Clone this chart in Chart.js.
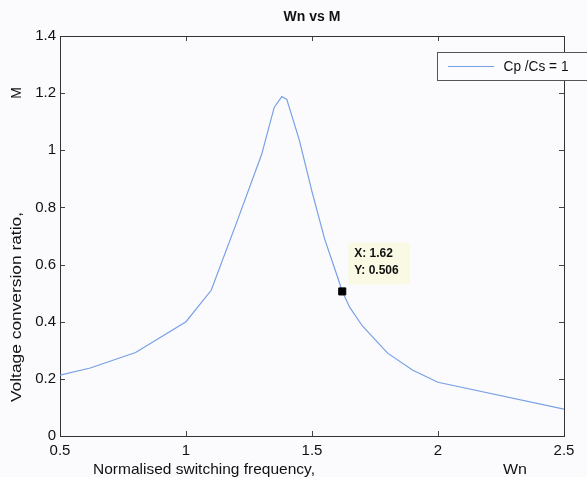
<!DOCTYPE html>
<html>
<head>
<meta charset="utf-8">
<script src="https://cdn.jsdelivr.net/npm/chart.js@4.4.1/dist/chart.umd.min.js"></script>
<style>
    html, body { margin: 0; padding: 0; background: #fbfbfe; }
    #wrap { width: 587px; height: 477px; }
</style>
</head>
<body>
<div id="wrap"><canvas id="chart" width="587" height="477"></canvas></div>
<script>
// Data
const wn = [0.5, 0.62, 0.8, 1.0, 1.1, 1.2, 1.3, 1.35, 1.38, 1.4, 1.45, 1.5, 1.55, 1.6, 1.62, 1.65, 1.7, 1.8, 1.9, 2.0, 2.5];
const m = [0.213, 0.238, 0.292, 0.400, 0.510, 0.745, 0.985, 1.150, 1.188, 1.178, 1.035, 0.855, 0.690, 0.560, 0.506, 0.450, 0.385, 0.290, 0.230, 0.188, 0.094];
const seriesLabel = 'Cp /Cs = 1';
const tipX = [1.62];
const tipY = [0.506];
const xTicks = [0.5, 1, 1.5, 2, 2.5];
const yTicks = [0, 0.2, 0.4, 0.6, 0.8, 1, 1.2, 1.4];

const FONT = "'Liberation Sans', Arial, sans-serif";
const lineColor = '#78a0e4';

// stretched text helper (the scanned labels are wider than the font)
function wideText(ctx, text, x, y, width) {
    const w = ctx.measureText(text).width;
    ctx.save();
    ctx.translate(x, y);
    ctx.scale(width / w, 1);
    ctx.fillText(text, 0, 0);
    ctx.restore();
}

// Draws the MATLAB style pieces: box, inner ticks, labels, legend, data tip
const matlabPlugin = {
    id: 'matlab',
    beforeDatasetsDraw(chart) {
        const { ctx, chartArea: a, scales } = chart;
        const x = scales.x, y = scales.y;
        ctx.save();

        // inner tick marks on all sides
        ctx.strokeStyle = '#444';
        ctx.lineWidth = 1;
        ctx.beginPath();
        xTicks.forEach(v => {
            const px = Math.round(x.getPixelForValue(v)) + 0.5;
            ctx.moveTo(px, a.bottom); ctx.lineTo(px, a.bottom - 5);
            ctx.moveTo(px, a.top); ctx.lineTo(px, a.top + 5);
        });
        yTicks.forEach(v => {
            const py = Math.round(y.getPixelForValue(v)) + 0.5;
            ctx.moveTo(a.left, py); ctx.lineTo(a.left + 5, py);
            ctx.moveTo(a.right, py); ctx.lineTo(a.right - 5, py);
        });
        ctx.stroke();

        // box
        ctx.strokeStyle = '#333';
        ctx.strokeRect(Math.round(a.left) + 0.5, Math.round(a.top) + 0.5,
            Math.round(a.right - a.left), Math.round(a.bottom - a.top));

        // title
        ctx.fillStyle = '#111';
        ctx.font = 'bold 14px ' + FONT;
        ctx.textAlign = 'center';
        ctx.textBaseline = 'middle';
        ctx.fillText('Wn vs M', (a.left + a.right) / 2, 17);

        // axis titles
        ctx.font = '15px ' + FONT;
        wideText(ctx, 'Normalised switching frequency,', 204, 470, 222);
        wideText(ctx, 'Wn', 515, 470, 24);
        ctx.save();
        ctx.translate(17, 307);
        ctx.rotate(-Math.PI / 2);
        ctx.font = '14px ' + FONT;
        wideText(ctx, 'Voltage conversion ratio,', 0, 0, 190);
        ctx.restore();
        ctx.save();
        ctx.translate(17, 93);
        ctx.rotate(-Math.PI / 2);
        ctx.font = '14px ' + FONT;
        ctx.fillText('M', 0, 0);
        ctx.restore();

        ctx.restore();
    },
    afterDatasetsDraw(chart) {
        const { ctx, scales } = chart;
        const x = scales.x, y = scales.y;
        ctx.save();
        ctx.textBaseline = 'middle';

        // legend
        ctx.fillStyle = '#fcfcfe';
        ctx.fillRect(437.5, 52.5, 160, 28);
        ctx.strokeStyle = '#555';
        ctx.lineWidth = 1;
        ctx.strokeRect(437.5, 52.5, 160, 28);
        ctx.strokeStyle = lineColor;
        ctx.beginPath();
        ctx.moveTo(448, 66.5); ctx.lineTo(494, 66.5);
        ctx.stroke();
        ctx.fillStyle = '#111';
        ctx.font = '14px ' + FONT;
        ctx.textAlign = 'center';
        wideText(ctx, seriesLabel, 536, 67, 65);

        // data tip box
        const tx = x.getPixelForValue(tipX[0]);
        const ty = y.getPixelForValue(tipY[0]);
        ctx.fillStyle = '#fafae4';
        ctx.fillRect(tx + 6, ty - 49, 62, 42);
        ctx.fillStyle = '#111';
        ctx.font = 'bold 12px ' + FONT;
        ctx.textAlign = 'left';
        ctx.fillText('X: ' + tipX[0], tx + 12, ty - 38);
        ctx.fillText('Y: ' + tipY[0], tx + 12, ty - 21);

        ctx.restore();
    }
};

new Chart(document.getElementById('chart').getContext('2d'), {
    type: 'line',
    data: {
        datasets: [
            {
                label: seriesLabel,
                data: wn.map((v, i) => ({ x: v, y: m[i] })),
                borderColor: lineColor,
                borderWidth: 1.2,
                pointRadius: 0,
                tension: 0,
                fill: false,
                order: 2
            },
            {
                label: 'tip',
                data: tipX.map((v, i) => ({ x: v, y: tipY[i] })),
                showLine: false,
                pointStyle: 'rect',
                pointRadius: 5,
                backgroundColor: '#000',
                borderColor: '#000',
                order: 1
            }
        ]
    },
    options: {
        responsive: false,
        animation: false,
        layout: { padding: { left: 0, right: 23, top: 36, bottom: 0 } },
        plugins: {
            legend: { display: false },
            tooltip: { enabled: false }
        },
        scales: {
            x: {
                type: 'linear',
                min: 0.5,
                max: 2.5,
                afterBuildTicks: (scale) => { scale.ticks = xTicks.map(v => ({ value: v })); },
                afterFit: (scale) => { scale.height = 41; },
                grid: { display: false, drawTicks: false },
                border: { display: false },
                ticks: {
                    color: '#111',
                    padding: 6,
                    maxRotation: 0,
                    font: { family: FONT, size: 15 },
                    callback: (v) => String(v)
                }
            },
            y: {
                type: 'linear',
                min: 0,
                max: 1.4,
                afterBuildTicks: (scale) => { scale.ticks = yTicks.map(v => ({ value: v })); },
                afterFit: (scale) => { scale.width = 60; },
                grid: { display: false, drawTicks: false },
                border: { display: false },
                ticks: {
                    color: '#111',
                    padding: 4,
                    font: { family: FONT, size: 15 },
                    callback: (v) => String(v)
                }
            }
        }
    },
    plugins: [matlabPlugin]
});
</script>
</body>
</html>
